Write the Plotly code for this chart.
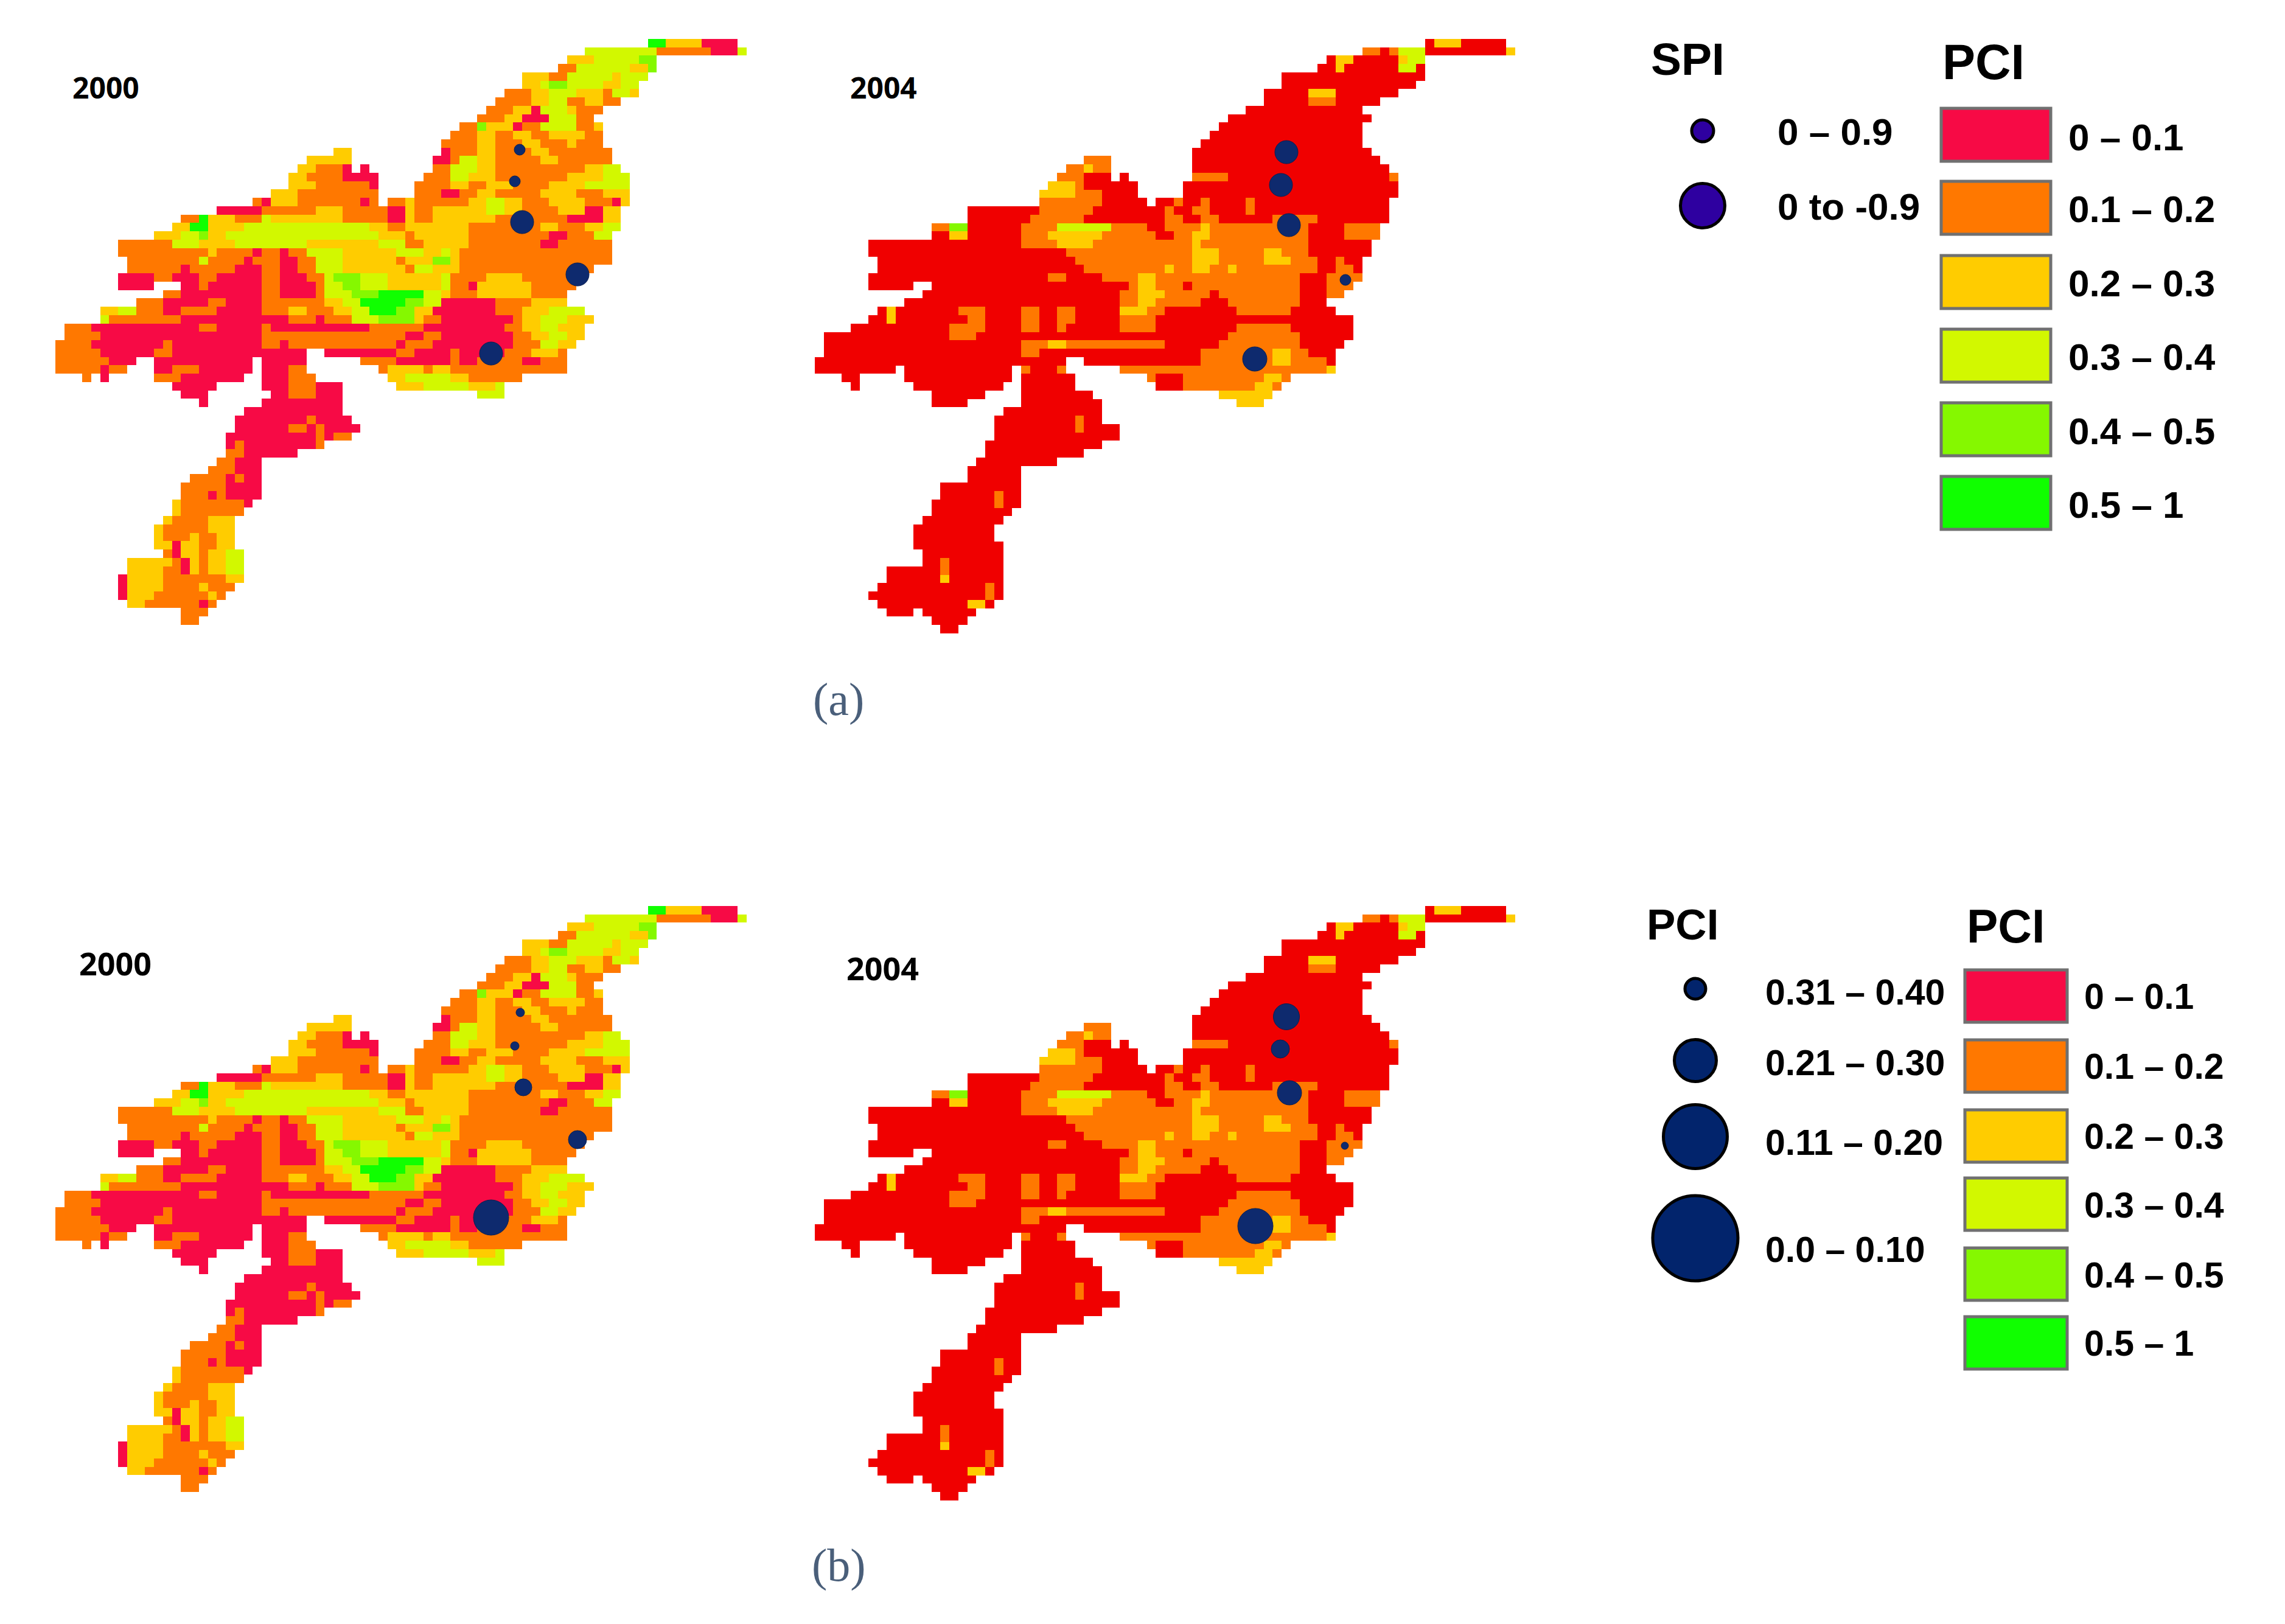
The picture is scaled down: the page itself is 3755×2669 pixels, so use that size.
import plotly.graph_objects as go

# map rows: "<start column><class>" runs, class letters index CLASS_KEYS, _ = outside the basin
CLASS_KEYS = "abcdefr"
CLASS_COLORS = ["#F70A45", "#FF7800", "#FFCC00", "#D2F800", "#85F800", "#10FF00", "#F00000"]
RANGE_LABELS = ["0 – 0.1", "0.1 – 0.2", "0.2 – 0.3", "0.3 – 0.4", "0.4 – 0.5", "0.5 – 1"]

MAP_2000 = [
"", "67f 69c 73a 77_", "60d 62d 68b 74a 77d 78_", "58c 61d 66e 68_", "57b 59d 65c 67e 68_",
"53c 56b 58d 63c 64d 67_", "53c 55d 56e 58d 62c 64d 66_", "51b 54c 56d 59c 62b 63d 65c 66_",
"50b 54c 56d 58b 60c 62b 64_", "49b 52c 54a 55d 58c 59b 62_", "48b 51c 53a 56d 59b 61_",
"46b 48e 49c 52a 53b 55d 59b 61c 62_", "45b 48c 50b 52c 54b 56c 60b 62_", "44b 48c 50b 53c 55b 58c 59b 62_",
"32c 34_ 44a 45b 48c 50b 54c 56b 63_", "29c 34_ 43a 45b 46d 48c 50b 55c 57b 63_",
"28c 30b 33a 34_ 35a 36_ 43b 45d 48c 50b 55b 60c 62d 64_", "27c 29b 33a 37_ 42b 45d 47c 50b 54b 58c 62d 65_",
"27c 30b 36a 37_ 41b 45c 47b 49c 52b 56c 60d 65_", "25c 28b 34b 37_ 41b 44a 46b 48c 50b 55c 59b 62c 65_",
"23b 24a 25c 28b 35a 36b 37_ 38b 40c 41b 47c 49d 51c 53b 56c 60b 63a 64c 65_",
"19a 24b 30c 33b 38a 40c 41b 43c 49d 51c 53b 57c 60a 62c 64_",
"15b 17f 18c 21b 24d 25c 29c 33b 38a 40c 41b 43c 47c 50b 58a 62c 64_",
"14c 16f 18c 22d 36c 38b 40c 43c 47b 55c 57b 60c 62d 64_",
"12c 15d 17e 18c 20d 37c 40b 41c 47b 56a 58b 61d 63_",
"8b 14d 17c 21d 29c 37d 40b 42c 47b 55a 57b 63_",
"8b 18c 19b 23a 24b 26a 27b 29d 33c 39d 42c 44d 45c 46b 63_",
"9b 17d 18b 22a 23b 26a 28b 30d 33c 39b 40c 43e 45c 46b 63_",
"9b 15a 16b 21a 24b 26a 28b 30d 33c 40b 41d 43c 46b 61_",
"8a 12b 14a 17b 19a 24b 26a 29b 31d 32e 35d 38c 44d 45b 49c 53b 60_",
"8a 12_ 15a 17b 18a 24b 26a 30b 31d 33e 35d 38c 44d 45b 47a 48c 54b 59_",
"13b 15a 21a 24b 26a 30b 31d 34e 37f 42d 44c 45b 48c 54b 58_",
"10b 13a 18b 20a 24b 31c 33d 35f 40e 42d 44a 50b 54c 58_",
"6c 8d 10b 13a 15b 19a 24b 27c 29b 32c 34d 36f 39e 41c 43a 50b 53c 56d 60_",
"6d 7b 15a 24a 27b 30a 31b 34d 37e 41c 42b 44a 52b 53c 55d 58c 61_",
"2b 5a 17b 19a 24b 25a 36b 42a 51b 53c 55d 57c 60_",
"2b 6a 24b 27b 35b 40a 42b 44a 52b 54c 56d 58c 60_",
"1b 5a 12a 13b 14a 24b 26a 27b 39a 40b 43a 52b 55d 57c 59_",
"1b 6a 12b 14a 24a 29_ 31a 39b 41a 45b 46a 51b 54c 57b 58_",
"1b 6b 7a 10_ 12a 23_ 24a 29_ 35b 39a 45b 46a 48b 53a 55b 58_",
"1b 6a 7b 9_ 12a 14b 17a 23_ 24a 27b 29_ 37b 38c 42b 43c 45b 58_",
"4b 5_ 6a 7_ 12b 15a 22_ 24a 27b 30_ 38c 40d 45c 47b 53_",
"14a 19_ 24a 27b 30a 33_ 39c 42d 47c 50d 51_", "15a 18_ 25a 27b 30a 33_ 48d 51_",
"17a 18_ 24a 33_", "22a 33_", "21a 29b 30a 34_", "21a 27b 29a 30b 31a 35_", "20a 30b 31a 32b 34_",
"20a 21b 22a 30b 31_", "20b 22a 28_", "19b 21a 24_", "18b 21a 24_", "16b 20a 21b 22a 24_", "15b 20a 24_",
"15b 18a 19b 20a 24_", "14c 15b 22a 23_", "14c 15b 22_", "13c 14b 18c 21_", "12c 13b 18c 21_",
"12c 13b 16c 17b 19c 21_", "12c 14a 15c 17b 19c 21_", "13b 14a 15c 17b 18c 20d 22_",
"9c 14b 15a 16c 17b 18c 20d 22_", "9c 13b 15a 16c 17b 18c 20d 22_", "8a 9c 13b 17b 20c 22_",
"8a 9c 13b 17c 18b 21_", "8a 9c 12b 17b 18c 19b 20_", "9c 11b 13b 17a 18b 19_", "15b 18_", "15b 17_",
]

MAP_2004 = [
"", "69r 70c 73r 78_", "62b 64r 65b 66d 69r 78c 79_", "58r 59c 61r 66c 67d 69_", "57r 59c 60r 66d 68r 69_",
"53r 69_", "53r 68_", "51r 56c 59r 66_", "51r 56b 59r 64_", "49r 62_", "47r 63_", "46r 62_", "45r 62_", "44r 62_",
"43r 63_", "31b 34_ 43r 64_", "29b 31c 32b 34_ 43r 65_", "28b 31r 34_ 35r 36_ 43b 47r 65b 66_",
"27c 30b 31r 37_ 42r 66_", "26c 30b 33r 37_ 42r 66_", "26b 33r 38_ 39r 41b 42r 44b 45r 49b 50r 65_",
"18r 26b 32r 40b 41r 43b 45r 49b 50r 65_", "18r 25b 31r 40b 42r 44b 46r 52b 57r 65_",
"14b 16e 18r 24b 28d 34b 38r 40b 44c 45b 56r 60b 64_", "14r 16c 18r 24b 27c 33b 39r 41b 43c 45b 56r 60b 64_",
"7r 24b 28c 32b 43c 44b 56r 63_", "7r 29b 43c 46b 51c 53b 56r 63_", "8r 28r 30b 43c 46b 51c 54b 57r 59b 60r 62_",
"8r 31b 40c 41b 43c 45b 47c 48b 57r 59b 61r 62_", "7r 27b 29r 33b 37c 39b 55r 58b 62_",
"7r 12_ 14r 36b 37c 39b 42r 43b 55r 58b 61_", "13r 34r 35b 37c 40b 45r 46b 55r 58b 60_",
"11r 35b 37c 39b 44r 47b 55r 58_", "8r 9c 10r 17b 20r 24b 26r 28b 30r 35c 38b 40r 48b 54r 59_",
"7r 9c 10r 18b 20r 24b 26r 28b 30r 35b 39r 61_", "5r 16b 20r 24b 26r 28b 29r 35b 39r 48b 54r 61_",
"2r 16b 19r 47b 55r 61_", "2r 24b 27c 29b 40r 46b 55r 60_", "2r 24b 26r 44b 52c 54b 56r 59_",
"1r 29_ 31r 44b 52c 54b 58r 59_", "1r 10_ 11r 23_ 24b 25r 28b 29_ 35b 58c 59_",
"4r 6_ 11r 23_ 24r 30_ 38b 39r 42b 51c 53b 54_", "5r 6_ 12r 22_ 24r 30_ 39r 42b 50c 52b 53_",
"14r 20_ 24r 32_ 46c 52_", "14r 18_ 24r 33_ 48c 51_", "22r 33_", "21r 30b 31r 33_", "21r 30b 31r 35_",
"21r 35_", "20r 33_", "20r 31_", "19r 28_", "18r 24_", "18r 24_", "15r 24_", "15r 21b 22r 24_", "14r 21b 22r 24_",
"14r 23_", "13r 22_", "12r 21_", "12r 21_", "12r 22_", "13r 22_", "13r 15b 16r 22_", "9r 15b 16r 22_",
"9r 15c 16r 22_", "8r 20b 21r 22_", "7r 20b 21r 22_", "8r 18c 20r 21_", "9r 12_ 13r 19_", "14r 18_", "15r 17_",
]

SPI_2000 = dict(x=[846, 838, 850, 941, 799], y=[238, 290, 357, 443, 573], d=[18, 18, 38, 38, 38])
SPI_2004 = dict(x=[2106, 2097, 2110, 2203, 2054], y=[242, 296, 362, 452, 582], d=[38, 38, 38, 18, 40])
PCI_2000 = dict(x=[847, 838, 852, 941, 799], y=[1656, 1711, 1779, 1865, 1993], d=[14, 14, 28, 30, 58])
PCI_2004 = dict(x=[2106, 2096, 2111, 2202, 2055], y=[1663, 1716, 1788, 1875, 2007], d=[43, 30, 40, 12, 58])

SPI_LABELS = ["0 – 0.9", "0 to -0.9"]
PCI_LABELS = ["0.31 – 0.40", "0.21 – 0.30", "0.11 – 0.20", "0.0 – 0.10"]

W, H = 3755, 2669
CW, CH = 14.75, 13.76
N_COLS = 82


def decode(rows):
    grid = []
    for row in rows:
        line = [None] * N_COLS
        toks = [(int(t[:-1]), t[-1]) for t in row.split()]
        for (start, key), (end, _k) in zip(toks, toks[1:]):
            if key != "_":
                for c in range(start, end):
                    line[c] = CLASS_KEYS.index(key)
        grid.append(line)
    return grid


n = len(CLASS_COLORS)
scale = []
for i, col in enumerate(CLASS_COLORS):
    scale += [[i / n, col], [(i + 1) / n, col]]

fig = go.Figure()
for rows, ox, oy in [(MAP_2000, 68, 42), (MAP_2004, 1316, 42), (MAP_2000, 68, 1467), (MAP_2004, 1316, 1467)]:
    fig.add_trace(go.Heatmap(z=decode(rows), x0=ox + CW / 2, dx=CW, y0=oy + CH / 2, dy=CH,
                             zmin=-0.5, zmax=n - 0.5, colorscale=scale, showscale=False,
                             hoverongaps=False, zsmooth=False))
for m in [SPI_2000, SPI_2004, PCI_2000, PCI_2004]:
    fig.add_trace(go.Scatter(x=m["x"], y=m["y"], mode="markers",
                             marker=dict(size=m["d"], color="#0E2A6E", opacity=1, line=dict(color="#0A1E50", width=1))))

fig.add_trace(go.Scatter(x=[2790, 2790], y=[207, 330], mode="markers",
                         marker=dict(size=[36, 73], color="#2E00A0", opacity=1, line=dict(color="#000", width=5))))
fig.add_trace(go.Scatter(x=[2778] * 4, y=[1617, 1735, 1860, 2027], mode="markers",
                         marker=dict(size=[34, 69, 105, 140], color="#02246C", opacity=1, line=dict(color="#000", width=5))))

shapes = []
for i, top in enumerate([170, 290, 412, 533, 654, 775]):
    shapes.append(dict(type="rect", xref="x", yref="y", x0=3182, x1=3362, y0=top, y1=top + 87,
                       fillcolor=CLASS_COLORS[i], line=dict(color="#707070", width=5)))
for i, top in enumerate([1586, 1701, 1816, 1928, 2043, 2156]):
    shapes.append(dict(type="rect", xref="x", yref="y", x0=3221, x1=3389, y0=top, y1=top + 86,
                       fillcolor=CLASS_COLORS[i], line=dict(color="#707070", width=5)))


def text(x, y, s, size, fam="Liberation Sans", bold=True, color="#000", anchor="left"):
    return dict(x=x, y=y, xref="x", yref="y", text=f"<b>{s}</b>" if bold else s, showarrow=False, xanchor=anchor,
                yanchor="middle", font=dict(family=fam, size=size, color=color))


ann = []
for lab, y in zip(RANGE_LABELS, [217, 335, 457, 578, 700, 821]):
    ann.append(text(3389, y, lab, 62))
for lab, y in zip(RANGE_LABELS, [1630, 1745, 1860, 1973, 2088, 2200]):
    ann.append(text(3415, y, lab, 59))
for lab, y in zip(SPI_LABELS, [208, 331]):
    ann.append(text(2911, y, lab, 62))
for lab, y in zip(PCI_LABELS, [1623, 1739, 1870, 2046]):
    ann.append(text(2891, y, lab, 59))
ann += [text(2765, 89, "SPI", 75, anchor="center"), text(3251, 94, "PCI", 81, anchor="center"),
        text(2757, 1511, "PCI", 71, anchor="center"), text(3288, 1514, "PCI", 77, anchor="center")]
ann += [text(166, 135, "2000", 48, "Open Sans", anchor="center"), text(1444, 135, "2004", 48, "Open Sans", anchor="center"),
        text(181, 1574, "2000", 52, "Open Sans", anchor="center"), text(1442, 1582, "2004", 52, "Open Sans", anchor="center")]
ann += [text(1370, 1141, "(a)", 76, "Liberation Serif", False, "#4A5F7A", "center"),
        text(1370, 2564, "(b)", 76, "Liberation Serif", False, "#4A5F7A", "center")]

fig.update_layout(width=W, height=H, margin=dict(l=0, r=0, t=0, b=0), paper_bgcolor="white", plot_bgcolor="white",
                  showlegend=False, shapes=shapes, annotations=ann,
                  xaxis=dict(range=[0, W], visible=False, fixedrange=True),
                  yaxis=dict(range=[H, 0], visible=False, fixedrange=True))
fig.write_html("out.html")
